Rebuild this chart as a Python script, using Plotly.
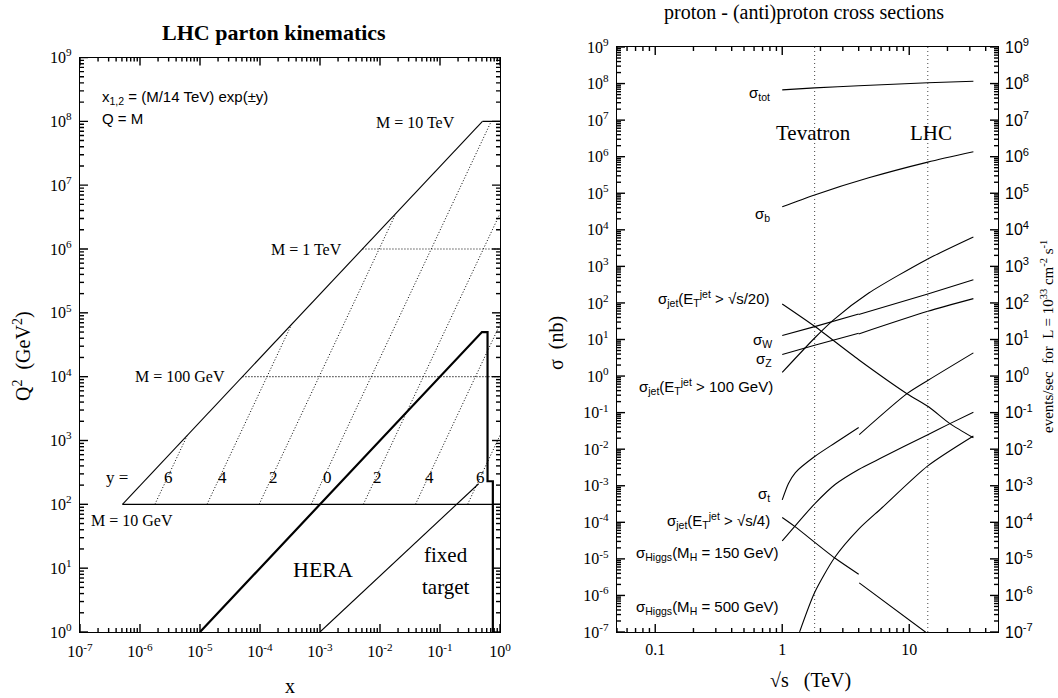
import plotly.graph_objects as go

W, H = 1058, 698
SERIF = "Liberation Serif"
SANS = "Liberation Sans"

# ---------------- left panel: LHC parton kinematics ----------------
# kinematic boundary x = M^2/s from M = 10 GeV to M = 10 TeV
upper_x = [5.1e-7, 0.51]
upper_q2 = [1e2, 1e8]

# constant-mass lines Q^2 = M^2 (M = 10 GeV, 100 GeV, 1 TeV, 10 TeV)
mass_q2 = [1e2, 1e4, 1e6, 1e8]
mass_x_start = [5.1e-7, 5.1e-5, 5.1e-3, 0.51]
mass_dash = ["solid", "1px,2px", "1px,2px", "solid"]

# constant-rapidity lines x = (M/14 TeV) exp(±y), y = 6,4,2,0,-2,-4,-6
rap_x_low = [1.771e-6, 1.308e-5, 9.667e-5, 7.143e-4, 5.278e-3, 3.90e-2, 0.2882]
rap_x_high = [6.14e-6, 3.355e-4, 1.832e-2, 0.7143, 1.0, 1.0, 1.0]
rap_q2_high = [1.204e3, 6.575e4, 3.59e6, 1e8, 3.59e6, 6.575e4, 1.204e3]
rap_labels = ["6", "4", "2", "0", "2", "4", "6"]

# HERA and fixed-target reach
hera_x = [1e-5, 0.5, 0.62, 0.62, 0.76, 0.76]
hera_q2 = [1, 5e4, 5e4, 230, 230, 1]
fixed_x = [1e-3, 0.44]
fixed_q2 = [1, 210]

left_x_ticks = [1e-7, 1e-6, 1e-5, 1e-4, 1e-3, 1e-2, 1e-1, 1e0]
left_x_text = ["10<sup>-7</sup>", "10<sup>-6</sup>", "10<sup>-5</sup>", "10<sup>-4</sup>",
               "10<sup>-3</sup>", "10<sup>-2</sup>", "10<sup>-1</sup>", "10<sup>0</sup>"]
left_y_ticks = [1e0, 1e1, 1e2, 1e3, 1e4, 1e5, 1e6, 1e7, 1e8, 1e9]
left_y_text = ["10<sup>%d</sup>" % k for k in range(0, 10)]

# ---------------- right panel: cross sections (nb) vs sqrt(s) (TeV) ----------------
tot_s = [1.0, 1.8, 4.0, 14.0, 32.0]
tot_sig = [6.7e7, 7.6e7, 8.7e7, 1.05e8, 1.16e8]

b_s = [1.0, 1.8, 4.8, 14.0, 32.0]
b_sig = [4.25e4, 9.0e4, 2.64e5, 7.1e5, 1.36e6]

jet20_s = [1.0, 1.8, 4.0, 9.6, 14.2, 20.9, 32.0]
jet20_sig = [94, 23, 2.8, 0.33, 0.145, 0.050, 0.0205]

jet100_s = [1.0, 1.8, 2.55, 4.8, 14.0, 32.0]
jet100_sig = [1.26, 11.0, 35, 186, 1600, 6400]

w_ppbar_s = [1.0, 1.8, 4.0]
w_ppbar_sig = [12.9, 22.5, 50]
w_pp_s = [4.0, 14.0, 32.0]
w_pp_sig = [48, 176, 432]

z_ppbar_s = [1.0, 1.8, 4.0]
z_ppbar_sig = [3.9, 6.95, 14.8]
z_pp_s = [4.0, 14.0, 32.0]
z_pp_sig = [14.2, 59, 131]

t_ppbar_s = [1.0, 1.12, 1.27, 1.8, 2.62, 4.0]
t_ppbar_sig = [4.1e-4, 1.15e-3, 2.3e-3, 6.3e-3, 1.5e-2, 3.9e-2]
t_pp_s = [4.04, 9.6, 14.2, 32.0]
t_pp_sig = [2.5e-2, 0.33, 0.78, 4.3]

jet4_ppbar_s = [1.0, 1.26, 2.58, 4.0]
jet4_ppbar_sig = [1.35e-4, 7.6e-5, 1.07e-5, 3.8e-6]
jet4_pp_s = [4.04, 13.4, 20.0]
jet4_pp_sig = [2.2e-6, 1.0e-7, 3.5e-8]

h150_s = [1.0, 1.26, 1.8, 2.62, 4.0, 6.1, 14.0, 20.9, 32.0]
h150_sig = [3.1e-5, 7.9e-5, 3.2e-4, 1.1e-3, 2.8e-3, 5.9e-3, 2.5e-2, 5.0e-2, 0.102]

h500_s = [1.37, 1.8, 2.58, 4.0, 6.1, 14.0, 32.0]
h500_sig = [1.0e-7, 1.2e-6, 1.07e-5, 6.5e-5, 2.5e-4, 3.5e-3, 2.3e-2]

tevatron_s = 1.8
lhc_s = 14.0

right_x_ticks = [0.1, 1, 10]
right_x_text = ["0.1", "1", "10"]
right_y_ticks = [10.0 ** k for k in range(-7, 10)]
right_y_text = ["10<sup>%d</sup>" % k for k in range(-7, 10)]

fig = go.Figure()

LW = 1.1


def line(x, y, xa, ya, width=LW, dash="solid", shape="linear"):
    fig.add_trace(go.Scatter(
        x=x, y=y, xaxis=xa, yaxis=ya, mode="lines",
        line=dict(color="black", width=width, dash=dash, shape=shape, smoothing=0.7),
        hoverinfo="skip", showlegend=False))


# left panel marks
line(upper_x, upper_q2, "x", "y")
for q2, x0, d in zip(mass_q2, mass_x_start, mass_dash):
    line([x0, 1.0], [q2, q2], "x", "y", dash=d)
for xl, xh, qh in zip(rap_x_low, rap_x_high, rap_q2_high):
    line([xl, xh], [1e2, qh], "x", "y", dash="1px,2px", width=1.0)
line(hera_x, hera_q2, "x", "y", width=2.2)
line(fixed_x, fixed_q2, "x", "y")

# right panel curves
sp = "spline"
line(tot_s, tot_sig, "x2", "y2", shape=sp)
line(b_s, b_sig, "x2", "y2", shape=sp)
line(jet20_s, jet20_sig, "x2", "y2", shape=sp)
line(jet100_s, jet100_sig, "x2", "y2", shape=sp)
line(w_ppbar_s, w_ppbar_sig, "x2", "y2", shape=sp)
line(w_pp_s, w_pp_sig, "x2", "y2", shape=sp)
line(z_ppbar_s, z_ppbar_sig, "x2", "y2", shape=sp)
line(z_pp_s, z_pp_sig, "x2", "y2", shape=sp)
line(t_ppbar_s, t_ppbar_sig, "x2", "y2", shape=sp)
line(t_pp_s, t_pp_sig, "x2", "y2", shape=sp)
line(jet4_ppbar_s, jet4_ppbar_sig, "x2", "y2", shape=sp)
line(jet4_pp_s, jet4_pp_sig, "x2", "y2", shape=sp)
line(h150_s, h150_sig, "x2", "y2", shape=sp)
line(h500_s, h500_sig, "x2", "y2", shape=sp)

# the event-rate axis shares the cross-section scale
fig.add_trace(go.Scatter(x=[1.0], y=[1.0], xaxis="x2", yaxis="y3", mode="markers",
                         marker=dict(opacity=0), hoverinfo="skip", showlegend=False))

# collider energies
for s in (tevatron_s, lhc_s):
    fig.add_shape(type="line", xref="x2", yref="y2 domain", x0=s, x1=s, y0=0, y1=1,
                  line=dict(color="#444", width=1, dash="1px,3px"))

# panel geometry in pixels
L_X0, L_X1, L_Y0, L_Y1 = 80, 500, 57.5, 632
R_X0, R_X1, R_Y0, R_Y1 = 617, 998, 47, 632
L_XR, L_YR = (-7, 0), (0, 9)
R_XR, R_YR = (-1.30103, 1.69897), (-7, 9)

TICK_MAJOR, TICK_MINOR = 8, 4
TICK_STYLE = dict(color="black", width=1.4)


def decade_ticks(lo, hi):
    major = [10.0 ** e for e in range(lo, hi + 1)]
    minor = [m * 10.0 ** e for e in range(lo, hi) for m in range(2, 10)]
    return major, minor


def frame_ticks(xa, ya, xr, yr, box):
    """Inward major/minor ticks on all four sides of a log-log frame."""
    x0p, x1p, y0p, y1p = box
    xdec = (x1p - x0p) / (xr[1] - xr[0])     # pixels per decade
    ydec = (y1p - y0p) / (yr[1] - yr[0])
    xlo, xhi = 10 ** xr[0], 10 ** xr[1]
    ylo, yhi = 10 ** yr[0], 10 ** yr[1]
    xmaj, xmin = decade_ticks(int(xr[0]) - 1, int(xr[1]) + 1)
    for vals, ln in ((xmaj, TICK_MAJOR), (xmin, TICK_MINOR)):
        d = ln / ydec
        for v in vals:
            if not (xlo <= v <= xhi):
                continue
            for ya0, ya1 in ((ylo, 10 ** (yr[0] + d)), (yhi, 10 ** (yr[1] - d))):
                fig.add_shape(type="line", xref=xa, yref=ya, x0=v, x1=v, y0=ya0, y1=ya1,
                              line=TICK_STYLE, layer="above")
    ymaj, ymin = decade_ticks(int(yr[0]), int(yr[1]))
    for vals, ln in ((ymaj, TICK_MAJOR), (ymin, TICK_MINOR)):
        d = ln / xdec
        for v in vals:
            for xa0, xa1 in ((xlo, 10 ** (xr[0] + d)), (xhi, 10 ** (xr[1] - d))):
                fig.add_shape(type="line", xref=xa, yref=ya, x0=xa0, x1=xa1, y0=v, y1=v,
                              line=TICK_STYLE, layer="above")


frame_ticks("x", "y", L_XR, L_YR, (L_X0, L_X1, L_Y0, L_Y1))
frame_ticks("x2", "y2", R_XR, R_YR, (R_X0, R_X1, R_Y0, R_Y1))

frame = dict(showline=True, linecolor="black", linewidth=1.3, mirror=True,
             ticks="", showgrid=False, zeroline=False, type="log")

fig.update_layout(
    width=W, height=H, margin=dict(l=0, r=0, t=0, b=0, autoexpand=False),
    paper_bgcolor="white", plot_bgcolor="white",
    font=dict(family=SERIF, color="black", size=16),
    xaxis=dict(frame, domain=[L_X0 / W, L_X1 / W], anchor="y", range=list(L_XR),
               tickmode="array", tickvals=left_x_ticks, ticktext=left_x_text,
               tickfont=dict(family=SERIF, size=16), ticklabelstandoff=5),
    yaxis=dict(frame, domain=[1 - L_Y1 / H, 1 - L_Y0 / H], anchor="x", range=list(L_YR),
               tickmode="array", tickvals=left_y_ticks, ticktext=left_y_text,
               tickfont=dict(family=SERIF, size=16), ticklabelstandoff=4),
    xaxis2=dict(frame, domain=[R_X0 / W, R_X1 / W], anchor="y2", range=list(R_XR),
                tickmode="array", tickvals=right_x_ticks, ticktext=right_x_text,
                tickfont=dict(family=SERIF, size=16), ticklabelstandoff=3),
    yaxis2=dict(frame, domain=[1 - R_Y1 / H, 1 - R_Y0 / H], anchor="x2", range=list(R_YR),
                tickmode="array", tickvals=right_y_ticks, ticktext=right_y_text,
                tickfont=dict(family=SERIF, size=16), ticklabelstandoff=4),
    yaxis3=dict(overlaying="y2", anchor="x2", side="right", type="log", range=list(R_YR),
                showline=False, showgrid=False, zeroline=False, ticks="",
                tickmode="array", tickvals=right_y_ticks, ticktext=right_y_text,
                tickfont=dict(family=SANS, size=16), ticklabelstandoff=6),
)


def px(x):
    return x / W


def py(y):
    return 1 - y / H


def note(text, x, y, size=15, family=SERIF, xanchor="center", angle=0):
    fig.add_annotation(text=text, x=px(x), y=py(y), xref="paper", yref="paper",
                       xanchor=xanchor, yanchor="middle", showarrow=False,
                       textangle=angle, font=dict(family=family, size=size, color="black"))


# left panel text
note("<b>LHC parton kinematics</b>", 274, 32, size=22)
note("x<sub>1,2</sub> = (M/14 TeV) exp(±y)", 100, 97, size=15, family=SANS, xanchor="left")
note("Q = M", 100, 118, size=15, family=SANS, xanchor="left")
note("M = 10 TeV", 415, 123, size=16)
note("M = 1 TeV", 306, 250, size=16)
note("M = 100 GeV", 180, 376, size=16)
note("M = 10 GeV", 132, 520, size=16)
note("y =", 117, 477, size=17)
for lbl, xp in zip(rap_labels, [168, 222, 273, 327, 377, 429, 480]):
    note(lbl, xp, 477, size=17)
note("HERA", 323, 569, size=22)
note("fixed", 446, 555, size=21)
note("target", 446, 587, size=21)
note("Q<sup>2</sup>  (GeV<sup>2</sup>)", 22, 356, size=20, angle=-90)
note("x", 290, 686, size=20)

# right panel text
note("proton - (anti)proton cross sections", 804, 13, size=20)
note("Tevatron", 813, 133, size=21)
note("LHC", 931, 133, size=21)
note("σ<sub>tot</sub>", 772, 93, size=15, family=SANS, xanchor="right")
note("σ<sub>b</sub>", 772, 215, size=15, family=SANS, xanchor="right")
note("σ<sub>jet</sub>(E<sub>T</sub><sup>jet</sup> > √s/20)", 772, 298, size=15, family=SANS, xanchor="right")
note("σ<sub>W</sub>", 774, 340, size=15, family=SANS, xanchor="right")
note("σ<sub>Z</sub>", 774, 359, size=15, family=SANS, xanchor="right")
note("σ<sub>jet</sub>(E<sub>T</sub><sup>jet</sup> > 100 GeV)", 775, 386, size=15, family=SANS, xanchor="right")
note("σ<sub>t</sub>", 772, 494, size=15, family=SANS, xanchor="right")
note("σ<sub>jet</sub>(E<sub>T</sub><sup>jet</sup> > √s/4)", 772, 520, size=15, family=SANS, xanchor="right")
note("σ<sub>Higgs</sub>(M<sub>H</sub> = 150 GeV)", 781, 553, size=15, family=SANS, xanchor="right")
note("σ<sub>Higgs</sub>(M<sub>H</sub> = 500 GeV)", 781, 607, size=15, family=SANS, xanchor="right")
note("σ  (nb)", 556, 343, size=20, angle=-90)
note("√s   (TeV)", 810, 680, size=20)
note("events/sec  for  L = 10<sup>33</sup> cm<sup>-2</sup> s<sup>-1</sup>", 1047, 337, size=15, angle=-90)

fig.write_html("out.html")
